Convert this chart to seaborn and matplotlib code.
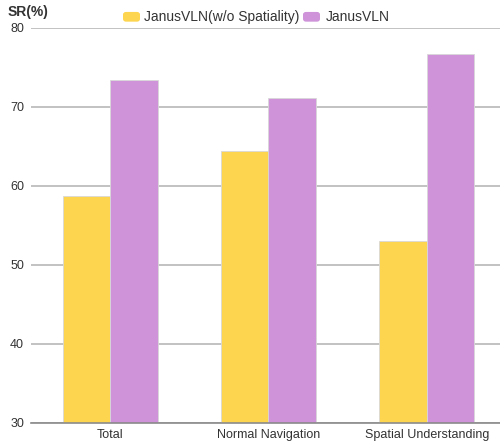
import matplotlib
matplotlib.use("Agg")
import matplotlib.pyplot as plt
import seaborn as sns
import pandas as pd
from matplotlib.patches import FancyBboxPatch

categories = ["Total", "Normal Navigation", "Spatial Understanding"]
series_names = ["JanusVLN(w/o Spatiality)", "JanusVLN"]
base_sr = [58.7, 64.4, 53.0]
janus_sr = [73.4, 71.1, 76.7]
y_ticks = [30, 40, 50, 60, 70, 80]
colors = ["#FDD54F", "#CE93D8"]

df = pd.DataFrame({
    "category": categories * 2,
    "model": [series_names[0]] * 3 + [series_names[1]] * 3,
    "sr": base_sr + janus_sr,
})

sns.set_style("white")
plt.rcParams["font.family"] = ["Liberation Sans", "DejaVu Sans"]

fig = plt.figure(figsize=(5.0, 4.42), dpi=100)
ax = fig.add_axes([0.062, 0.043, 0.95, 0.894])

sns.barplot(data=df, x="category", y="sr", hue="model", order=categories,
            hue_order=series_names, palette=colors, saturation=1, width=0.6, ax=ax,
            edgecolor="#d8d8d8", linewidth=0.6, legend=False, zorder=3)

ax.set_xlim(-0.5, 2.5)
ax.set_ylim(30, 80)
ax.set_yticks(y_ticks)
ax.yaxis.grid(True, color="#b8b8b8", linewidth=1.2, zorder=0)
ax.set_axisbelow(True)
for s in ["top", "right", "left"]:
    ax.spines[s].set_visible(False)
ax.spines["bottom"].set_color("#8a8a8a")
ax.spines["bottom"].set_linewidth(1.2)
ax.spines["bottom"].set_zorder(4)
ax.tick_params(axis="both", length=0, labelsize=9, colors="#333333")
ax.tick_params(axis="y", pad=5)
ax.tick_params(axis="x", pad=4)
ax.set_xlabel("")
ax.set_ylabel("")

fig.text(0.016, 0.972, "SR(%)", fontsize=10, fontweight="bold", color="#333333",
         ha="left", va="center")

# Legend with rounded swatches
legend_y = 0.962
fig.text(0.288, legend_y, series_names[0], fontsize=10, color="#333333",
         ha="left", va="center")
fig.text(0.652, legend_y, series_names[1], fontsize=10, color="#333333",
         ha="left", va="center")
for x0, c in [(0.246, colors[0]), (0.606, colors[1])]:
    fig.patches.append(FancyBboxPatch((x0, legend_y - 0.011), 0.034, 0.022,
                                      boxstyle="round,pad=0,rounding_size=0.006",
                                      transform=fig.transFigure, facecolor=c,
                                      edgecolor="none"))

fig.savefig("out.png", dpi=100)
